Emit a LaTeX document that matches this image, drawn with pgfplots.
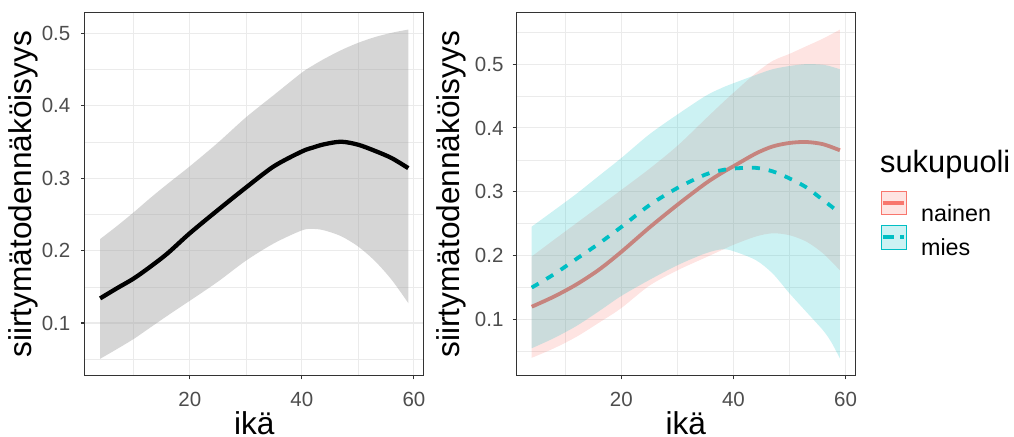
\documentclass[border=0pt]{standalone}
\usepackage{fontspec}
\setmainfont{Liberation Sans}
\usepackage{pgfplots}
\usepackage{pgfplotstable}
\pgfplotsset{compat=1.18}
\usepgfplotslibrary{fillbetween}

\definecolor{nainenC}{HTML}{F8766D}
\definecolor{miesC}{HTML}{00BFC4}
\definecolor{grid92}{HTML}{EBEBEB}
\definecolor{gray20}{HTML}{333333}
\definecolor{gray30}{HTML}{4D4D4D}
\definecolor{ribbonGrey}{HTML}{999999}

% smoothed transition probability by age, all respondents
\pgfplotstableread{
x    fit    lo     hi
4    0.134  0.0505 0.216
7    0.148  0.064  0.234
10   0.1615 0.078  0.253
13   0.178  0.094  0.273
16   0.196  0.110  0.292
20   0.224  0.1307 0.3165
25   0.256  0.157  0.349
30   0.287  0.186  0.384
35   0.3165 0.210  0.415
40   0.337  0.228  0.446
42   0.3425 0.230  0.456
44   0.347  0.228  0.465
47   0.3505 0.220  0.477
50   0.3465 0.206  0.487
53   0.338  0.186  0.495
56   0.328  0.160  0.501
59   0.314  0.1275 0.5055
}\kokoData

% women
\pgfplotstableread{
x    fit    lo     hi
4    0.120  0.040  0.1987
8    0.136  0.055  0.225
12   0.155  0.073  0.251
16   0.178  0.095  0.277
20   0.206  0.118  0.303
25   0.244  0.153  0.336
30   0.2796 0.177  0.372
35   0.313  0.197  0.414
38   0.330  0.209  0.439
40   0.340  0.217  0.455
44   0.360  0.230  0.486
47   0.371  0.235  0.505
50   0.3765 0.232  0.516
53   0.378  0.222  0.528
56   0.3745 0.2035 0.540
59   0.365  0.177  0.554
}\nainenData

% men
\pgfplotstableread{
x    fit    lo     hi
4    0.150  0.055  0.2455
8    0.171  0.071  0.271
12   0.195  0.090  0.297
16   0.219  0.113  0.325
20   0.245  0.137  0.353
25   0.279  0.162  0.390
30   0.306  0.185  0.421
35   0.327  0.2036 0.450
38   0.334  0.210  0.463
40   0.3365 0.207  0.470
44   0.3375 0.193  0.483
47   0.332  0.172  0.492
50   0.321  0.141  0.497
53   0.307  0.112  0.500
56   0.287  0.083  0.499
57.5 0.277  0.064  0.496
59   0.266  0.039  0.492
}\miesData

\pgfplotsset{
  ggpanel/.style={
    scale only axis, width=339bp, height=363bp,
    anchor=south west,
    xmin=1.25, xmax=61.75,
    xtick={20,40,60}, minor xtick={10,30,50},
    grid=both,
    major grid style={grid92, line width=1.07bp},
    minor grid style={grid92, line width=0.53bp},
    axis line style={gray20, line width=1.07bp},
    tick pos=left, tick align=outside,
    major tick length=3.7bp, minor tick length=0pt,
    tick style={gray20, line width=1.07bp},
    /pgf/number format/assume math mode=true,
    every tick label/.append style={font=\fontsize{20.5bp}{24bp}\selectfont, text=gray30},
    yticklabel style={anchor=east, inner sep=0pt},
    xticklabel style={anchor=base, inner sep=0pt, yshift=-26.7bp},
    xlabel={ikä}, ylabel={siirtymätodennäköisyys},
    label style={font=\fontsize{31.6bp}{36bp}\selectfont, text=black},
    xlabel style={at={(axis description cs:0.5,0)}, anchor=base, inner sep=0pt, yshift=-58.3bp},
    % ribbons are stacked in the order they are drawn, together with the lines
    fill between/on layer=main,
  },
  band edge/.style={draw=none, smooth, tension=0.5, forget plot},
  fit line/.style={smooth, tension=0.5, line join=round, forget plot},
}

\begin{document}
\begin{tikzpicture}
% left panel: all respondents
\begin{axis}[ggpanel, at={(84.7bp,61.3bp)},
  ymin=0.0272, ymax=0.5288,
  ytick={0.1,0.2,0.3,0.4,0.5}, minor ytick={0.05,0.15,0.25,0.35,0.45},
  yticklabel style={xshift=-10.5bp},
  ylabel style={at={(axis description cs:-0.181,0.5)}, anchor=center, inner sep=0pt},
]
  \addplot[band edge, name path=kHi] table[x=x, y=hi] {\kokoData};
  \addplot[band edge, name path=kLo] table[x=x, y=lo] {\kokoData};
  \addplot[fill=ribbonGrey, fill opacity=0.4, draw=none, forget plot] fill between[of=kHi and kLo];
  \addplot[fit line, black, line width=4.3bp] table[x=x, y=fit] {\kokoData};
\end{axis}

% right panel: by gender
\begin{axis}[ggpanel, at={(516.3bp,61.3bp)},
  ymin=0.012, ymax=0.5805,
  ytick={0.1,0.2,0.3,0.4,0.5}, minor ytick={0.05,0.15,0.25,0.35,0.45,0.55},
  yticklabel style={xshift=-9bp},
  ylabel style={at={(axis description cs:-0.1906,0.5)}, anchor=center, inner sep=0pt},
  legend style={at={(axis description cs:1.0749,0.5088)}, anchor=north west,
    draw=none, fill=none, inner sep=0pt, outer sep=0pt,
    row sep=2.7bp, column sep=14.3bp,
    font=\fontsize{23.3bp}{26bp}\selectfont,
    nodes={inner sep=0pt, text=black}},
  legend cell align=left,
]
  \addplot[band edge, name path=nHi] table[x=x, y=hi] {\nainenData};
  \addplot[band edge, name path=nLo] table[x=x, y=lo] {\nainenData};
  \addplot[fill=nainenC, fill opacity=0.2, draw=none, forget plot] fill between[of=nHi and nLo];
  \addplot[fit line, nainenC, line width=3.8bp] table[x=x, y=fit] {\nainenData};

  \addplot[band edge, name path=mHi] table[x=x, y=hi] {\miesData};
  \addplot[band edge, name path=mLo] table[x=x, y=lo] {\miesData};
  \addplot[fill=miesC, fill opacity=0.2, draw=none, forget plot] fill between[of=mHi and mLo];
  \addplot[fit line, miesC, line width=3.8bp, dash pattern=on 8bp off 9bp] table[x=x, y=fit] {\miesData};

  \addlegendimage{legend image code/.code={
    \fill[nainenC, fill opacity=0.2] (0bp,-1bp) rectangle (25bp,22.3bp);
    \draw[nainenC, line width=3.8bp] (1bp,10.6bp) -- (22.7bp,10.6bp);}}
  \addlegendentry{nainen}
  \addlegendimage{legend image code/.code={
    \fill[miesC, fill opacity=0.2] (0bp,-1bp) rectangle (25bp,22.3bp);
    \draw[miesC, line width=3.8bp, dash pattern=on 11.5bp off 6bp] (1bp,10.6bp) -- (22.7bp,10.6bp);}}
  \addlegendentry{mies}
\end{axis}

\node[anchor=base west, inner sep=0pt, font=\fontsize{30.8bp}{34bp}\selectfont] at (880bp,264bp) {sukupuoli};

% page frame
\pgfresetboundingbox
\useasboundingbox (0,0) rectangle (1014bp,437bp);
\end{tikzpicture}
\end{document}
